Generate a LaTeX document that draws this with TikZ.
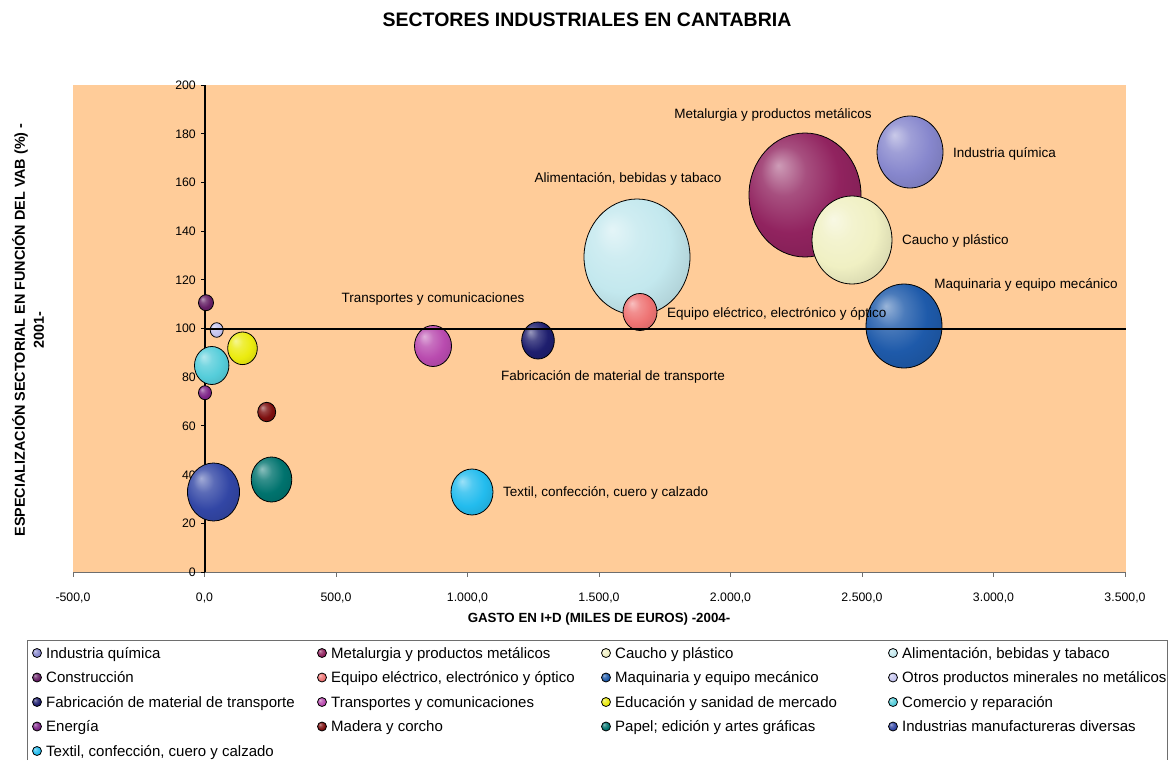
\documentclass[tikz,border=0pt]{standalone}
\usepackage{fontspec}
\setmainfont{Liberation Sans}
\usetikzlibrary{shapes.geometric, positioning}

\definecolor{plotbg}{RGB}{255,204,153}
\definecolor{axgray}{RGB}{110,110,110}
\definecolor{cquim}{RGB}{135,135,205}
\definecolor{cmeta}{RGB}{145,35,95}
\definecolor{ccauc}{RGB}{240,240,195}
\definecolor{calim}{RGB}{195,232,238}
\definecolor{ccons}{RGB}{100,30,100}
\definecolor{cequi}{RGB}{238,115,115}
\definecolor{cmaqu}{RGB}{30,90,170}
\definecolor{cotro}{RGB}{195,195,238}
\definecolor{cfabr}{RGB}{30,30,110}
\definecolor{ctran}{RGB}{185,75,175}
\definecolor{ceduc}{RGB}{235,235,15}
\definecolor{ccome}{RGB}{85,205,218}
\definecolor{cener}{RGB}{125,35,135}
\definecolor{cmade}{RGB}{125,15,15}
\definecolor{cpape}{RGB}{0,115,110}
\definecolor{cindu}{RGB}{50,70,165}
\definecolor{ctext}{RGB}{35,188,238}

\colorlet{bc}{black}
\pgfdeclareradialshading[bc]{bubble}{\pgfpoint{-12bp}{12bp}}{%
  color(0bp)=(bc!45!white); color(10bp)=(bc!80!white); color(22bp)=(bc);
  color(40bp)=(bc!82!black); color(50bp)=(bc!68!black)}

\tikzset{
  bubble/.style={ellipse, draw=black, line width=0.8pt, shading=bubble, inner sep=0pt},
  lab/.style={font=\fontsize{13.5}{16}\selectfont, inner sep=0pt, text height=9.7pt, text depth=0pt},
  ticklab/.style={font=\fontsize{12.3}{14}\selectfont, inner sep=0pt, text height=8.8pt, text depth=0pt},
  axtitle/.style={font=\bfseries\fontsize{13.3}{18}\selectfont, inner sep=0pt, align=center},
  legtext/.style={font=\fontsize{15}{18}\selectfont, anchor=west, inner sep=0pt, text height=10.7pt, text depth=0pt}
}

\begin{document}
\begin{tikzpicture}[x=1pt, y=-1pt]
    \useasboundingbox (0,0) rectangle (1172,760);
    \node[font=\bfseries\fontsize{19.5}{22}\selectfont, inner sep=0pt] (title) at (587,20) {SECTORES INDUSTRIALES EN CANTABRIA};

    % plot area and axes
    \fill[plotbg] (73,85) rectangle (1126,572);
    \draw[axgray, line width=1pt] (73,572) -- (1126,572);
    \foreach \i/\t in {0/{-500,0}, 1/{0,0}, 2/{500,0}, 3/{1.000,0}, 4/{1.500,0}, 5/{2.000,0}, 6/{2.500,0}, 7/{3.000,0}, 8/{3.500,0}} {
        \draw[axgray, line width=1pt] (73+131.5*\i,572) -- ++(0,5);
        \node[ticklab] (xt\i) at (73+131.5*\i,597) {\t};
    }
    \draw[line width=2.5pt] (205,85) -- (205,572);
    \foreach \v in {0,20,...,200} {
        \draw[line width=1pt] (201,572-2.435*\v) -- (205,572-2.435*\v);
        \node[ticklab, anchor=east] (yt\v) at (196,572-2.435*\v) {\v};
    }
    \node[axtitle] (xtitle) at (599,619) {GASTO EN I+D (MILES DE EUROS) -2004-};
    \node[axtitle, rotate=90, font=\bfseries\fontsize{14.4}{19}\selectfont] (ytitle) at (28,330)
        {ESPECIALIZACIÓN SECTORIAL EN FUNCIÓN DEL VAB (\%) -\\2001-};

    % bubbles
    \foreach \n/\x/\y/\rx/\ry/\col in {alim/637/257/53/58/calim, meta/805/195/56/62/cmeta,
        quim/910/152/33/36/cquim, cauc/852/240/40/44/ccauc, maqu/904/326/38/42/cmaqu,
        equi/640/312/17/18.5/cequi, fabr/538/340.5/16.3/18.5/cfabr, tran/433/346/18.5/20.5/ctran,
        text/472/492/21/23/ctext, indu/213.5/492/26/29/cindu, pape/271.5/479.5/20.3/22.5/cpape,
        made/266.7/412/9/9.7/cmade, ener/205/392.7/6.5/7/cener, come/211.7/365.5/17.2/19/ccome,
        educ/242.5/348.3/14.8/16.3/ceduc, otro/216.7/330/6.5/7.3/cotro, cons/206/302.7/7.5/8/ccons} {
        \colorlet{bc}{\col}
        \node[bubble, minimum width=2*\rx, minimum height=2*\ry] (b-\n) at (\x,\y) {};
    }
    \draw[line width=1.8pt] (205,329) -- (1126,329);

    % bubble labels
    \node[lab] (l-meta) at (773,114) {Metalurgia y productos metálicos};
    \node[lab, anchor=west] (l-quim) at (953,153) {Industria química};
    \node[lab] (l-alim) at (628,178) {Alimentación, bebidas y tabaco};
    \node[lab, anchor=west] (l-cauc) at (902,240) {Caucho y plástico};
    \node[lab] (l-tran) at (433,298) {Transportes y comunicaciones};
    \node[lab] (l-maqu) at (1026,284) {Maquinaria y equipo mecánico};
    \node[lab, anchor=west] (l-equi) at (667,312.5) {Equipo eléctrico, electrónico y óptico};
    \node[lab, anchor=west] (l-fabr) at (501,375.5) {Fabricación de material de transporte};
    \node[lab, anchor=west] (l-text) at (503,491.5) {Textil, confección, cuero y calzado};

    % legend
    \draw[axgray, line width=0.8pt] (27,760) -- (27,640) -- (1167,640) -- (1167,760);
    \foreach \x/\y/\col/\t [count=\i] in {37/653/cquim/Industria química, 322/653/cmeta/Metalurgia y productos metálicos,
        606/653/ccauc/Caucho y plástico, 893/653/calim/{Alimentación, bebidas y tabaco},
        37/677.5/ccons/Construcción, 322/677.5/cequi/{Equipo eléctrico, electrónico y óptico},
        606/677.5/cmaqu/Maquinaria y equipo mecánico, 893/677.5/cotro/Otros productos minerales no metálicos,
        37/702/cfabr/Fabricación de material de transporte, 322/702/ctran/Transportes y comunicaciones,
        606/702/ceduc/Educación y sanidad de mercado, 893/702/ccome/Comercio y reparación,
        37/726.5/cener/Energía, 322/726.5/cmade/Madera y corcho,
        606/726.5/cpape/Papel; edición y artes gráficas, 893/726.5/cindu/Industrias manufactureras diversas,
        37/751/ctext/{Textil, confección, cuero y calzado}} {
        \colorlet{bc}{\col}
        \node[bubble, minimum width=9, minimum height=9] (lm\i) at (\x,\y) {};
        \node[legtext] (lt\i) at (\x+9,\y) {\t};
    }
\end{tikzpicture}
\end{document}
